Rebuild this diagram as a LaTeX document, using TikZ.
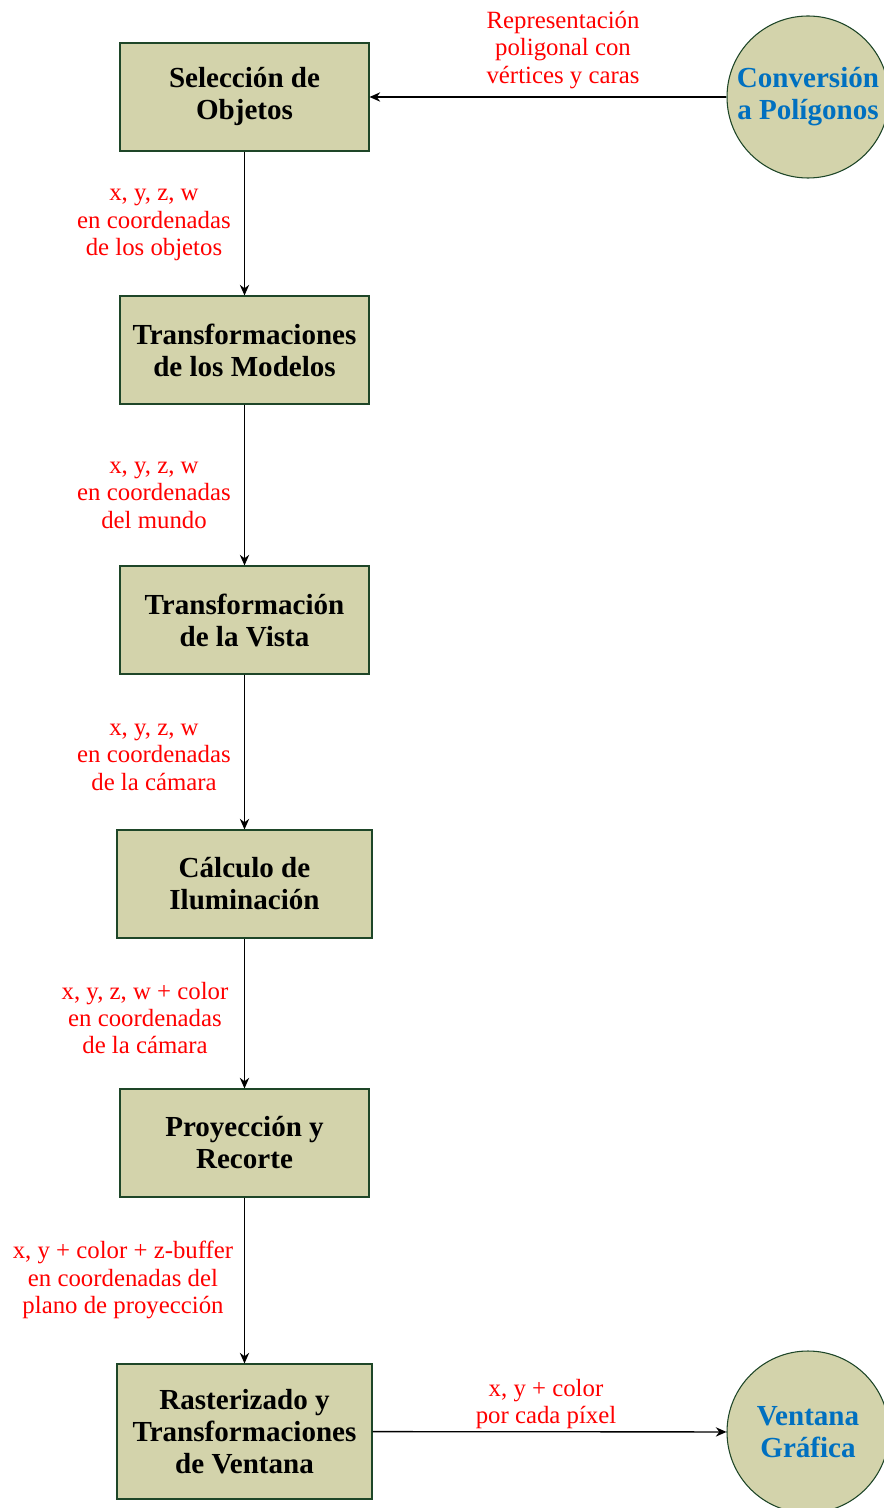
\documentclass[tikz,border=0pt]{standalone}
\usepackage{fontspec}
\setmainfont{Liberation Serif}
\usetikzlibrary{arrows.meta, positioning}
\definecolor{cajafill}{RGB}{211,211,171}
\definecolor{cajaline}{RGB}{30,70,40}
\definecolor{azul}{RGB}{0,112,192}
\tikzset{%
    caja/.style={rectangle, draw=cajaline, fill=cajafill, line width=0.8pt,
        minimum width=186.75pt, minimum height=81pt, align=center,
        font=\fontsize{21.8}{24}\selectfont\bfseries},
    circ/.style={circle, draw=cajaline, fill=cajafill, line width=0.8pt,
        minimum size=121.5pt, inner sep=0pt, align=center, text=azul,
        font=\fontsize{21.8}{24}\selectfont\bfseries},
    etq/.style={align=center, text=red, inner sep=0pt,
        font=\fontsize{18.6}{20.6}\selectfont},
    flecha/.style={line width=1pt, -{Stealth[length=8pt, width=7pt]}},
}

\begin{document}
\begin{tikzpicture}[x=0.75pt, y=-0.75pt]
    \useasboundingbox (0,0) rectangle (883,1508);
    % etapas
    \node [caja] (sel) at (244.5,97) {Selección de\\Objetos};
    \node [caja] (mod) at (244.5,350) {Transformaciones\\de los Modelos};
    \node [caja] (vis) at (244.5,620) {Transformación\\de la Vista};
    \node [caja, minimum width=191.25pt] (ilu) at (244.5,884) {Cálculo de\\Iluminación};
    \node [caja] (pro) at (244.5,1143) {Proyección y\\Recorte};
    \node [caja, minimum width=191.25pt, minimum height=101.25pt] (ras) at (244.5,1431.5)
        {Rasterizado y\\Transformaciones\\de Ventana};
    \node [circ] (conv) at (808,97) {Conversión\\a Polígonos};
    \node [circ] (vent) at (808,1432) {Ventana\\Gráfica};
    % flechas
    \draw [flecha](conv) -- (sel);
    \draw [flecha](sel) -- (mod);
    \draw [flecha](mod) -- (vis);
    \draw [flecha](vis) -- (ilu);
    \draw [flecha](ilu) -- (pro);
    \draw [flecha](pro) -- (ras);
    \draw [flecha](ras) -- (vent);
    % etiquetas
    \node [etq] (eConv) at (563,50) {Representación\\poligonal con\\vértices y caras};
    \node [etq] (eSel) at (154,225) {x, y, z, w\\en coordenadas\\de los objetos};
    \node [etq] (eMod) at (154,495) {x, y, z, w\\en coordenadas\\del mundo};
    \node [etq] (eVis) at (154,757) {x, y, z, w\\en coordenadas\\de la cámara};
    \node [etq] (eIlu) at (145,1018) {x, y, z, w + color\\en coordenadas\\de la cámara};
    \node [etq] (ePro) at (123,1280) {x, y + color + z-buffer\\en coordenadas del\\plano de proyección};
    \node [etq] (eRas) at (546,1404) {x, y + color\\por cada píxel};
\end{tikzpicture}
\end{document}
